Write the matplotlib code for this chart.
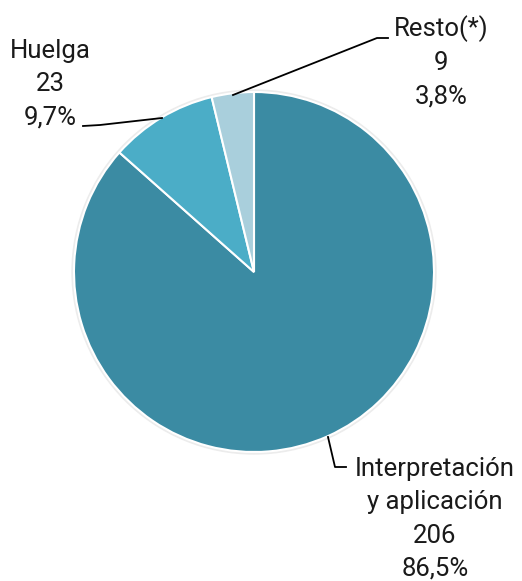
import matplotlib
matplotlib.use("Agg")
import matplotlib.pyplot as plt
from matplotlib.patches import Circle

categories = ["Interpretación\ny aplicación", "Huelga", "Resto(*)"]
values = [206, 23, 9]
percents = ["86,5%", "9,7%", "3,8%"]
colors = ["#3b8ba3", "#4badc7", "#a9cfdc"]

W, H = 522, 581
fig = plt.figure(figsize=(W / 100, H / 100), dpi=100)
ax = fig.add_axes([0, 0, 1, 1])
ax.set_xlim(0, W)
ax.set_ylim(0, H)
ax.set_aspect("equal")
ax.axis("off")

cx, cy, r = 254, H - 272, 180
ax.add_patch(Circle((cx, cy), r + 2, color="#ececec", zorder=0))
ax.pie(values, colors=colors, startangle=90, counterclock=False, center=(cx, cy),
       radius=r, wedgeprops=dict(edgecolor="white", linewidth=1.5), frame=True)
ax.set_xlim(0, W)
ax.set_ylim(0, H)
ax.axis("off")

font = dict(family=["Roboto", "DejaVu Sans"], fontsize=18.5, fontweight="normal",
            color="#1a1a1a", ha="center", va="center", linespacing=1.48)

def Y(y):
    return H - y

# Leader lines
ax.plot([233, 377, 388], [Y(95), Y(38), Y(38)], color="black", lw=1.3)
ax.plot([162, 100, 83], [Y(118), Y(125), Y(126)], color="black", lw=1.3)
ax.plot([328, 335, 346], [Y(437), Y(467), Y(467)], color="black", lw=1.3)

ax.text(441, Y(62), f"{categories[2]}\n{values[2]}\n{percents[2]}", **font)
ax.text(50, Y(84), f"{categories[1]}\n{values[1]}\n{percents[1]}", **font)
ax.text(435, Y(519), f"{categories[0]}\n{values[0]}\n{percents[0]}", **font)

fig.savefig("out.png", dpi=100)
